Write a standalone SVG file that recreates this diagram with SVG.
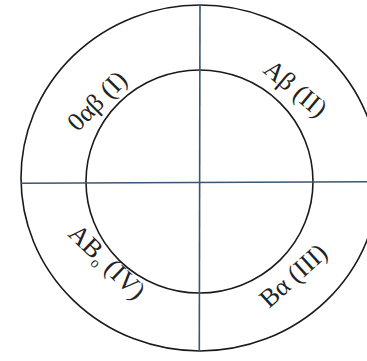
<svg xmlns="http://www.w3.org/2000/svg" width="367" height="361" viewBox="0 0 367 361">
<style>
.ring{fill:none;stroke:#1a1a1a;stroke-width:1.6}
.axis{fill:none;stroke:#3a5670;stroke-width:1.6}
.lbl{font-family:"Liberation Serif","DejaVu Serif",serif;font-size:26px;fill:#222;text-anchor:middle}
</style>
<rect width="367" height="361" fill="#fff"/>
<g id="outer"><ellipse class="ring" cx="200" cy="178" rx="179" ry="173"/></g>
<g id="inner"><ellipse class="ring" cx="199.5" cy="181.5" rx="113.5" ry="111.5"/></g>
<g id="connectors">
<path class="axis" d="M21 183.3 L367 181.7"/>
<path class="axis" d="M200 5 L199.3 351"/>
</g>
<g id="q1"><text class="lbl" transform="translate(103,107) rotate(-45)">0αβ (I)</text></g>
<g id="q2"><text class="lbl" transform="translate(290,95) rotate(40)">Aβ (II)</text></g>
<g id="q4"><text class="lbl" transform="translate(101,268) rotate(44)">AB<tspan font-size="15" dy="5">o</tspan><tspan dy="-5"> (IV)</tspan></text></g>
<g id="q3"><text class="lbl" transform="translate(299,282) rotate(-42)">Bα (III)</text></g>
</svg>
